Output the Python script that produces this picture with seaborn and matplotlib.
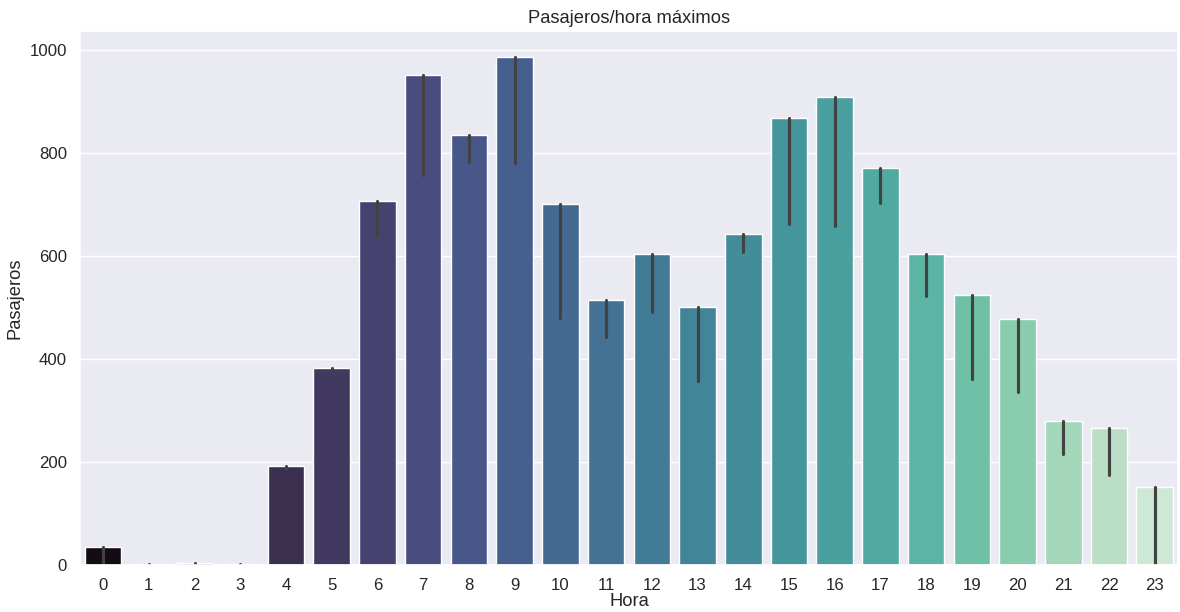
import pandas as pd
import matplotlib
matplotlib.use("Agg")
import matplotlib.pyplot as plt
import seaborn as sns

# Max passengers per hour (bar height) and lower end of the error bar
horas = list(range(24))
pasajeros_max = [35, 2, 4, 1, 192, 383, 707, 951, 835, 987, 701, 514,
                 604, 500, 642, 867, 908, 770, 603, 525, 478, 279, 266, 152]
pasajeros_min = [0, 0, 0, 0, 186, 378, 638, 757, 783, 780, 479, 442,
                 491, 357, 607, 662, 658, 702, 523, 361, 335, 216, 174, 0]

# Long table: two observations per hour
df = pd.DataFrame({
    "Hora": horas + horas,
    "Pasajeros": pasajeros_max + pasajeros_min,
})

sns.set_theme(style="darkgrid", font_scale=1.1)
plt.rcParams["font.family"] = ["Liberation Sans", "DejaVu Sans"]

fig, ax = plt.subplots(figsize=(11.8, 6.12), dpi=100)
sns.barplot(data=df, x="Hora", y="Pasajeros", hue="Hora",
            palette=sns.color_palette("mako", len(horas)),
            estimator="max", errorbar=lambda v: (v.min(), v.max()),
            legend=False, ax=ax)
ax.set_title("Pasajeros/hora máximos")
ax.set_xlabel("Hora", labelpad=0)
ax.set_ylabel("Pasajeros")

fig.subplots_adjust(left=0.068, right=0.998, top=0.949, bottom=0.077)
plt.savefig("out.png", dpi=100)
